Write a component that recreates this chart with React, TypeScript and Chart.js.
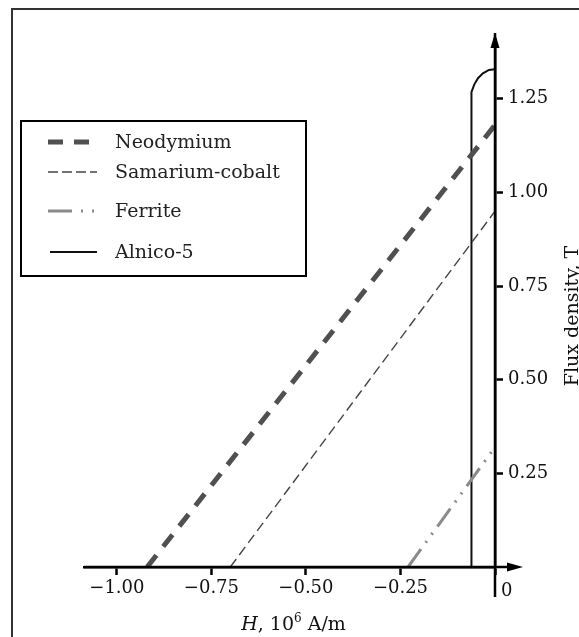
import React, { useEffect, useRef } from "react";
import { Chart, registerables } from "chart.js";

Chart.register(...registerables);

// ---------- data ----------
const seriesNames = ["Neodymium", "Samarium-cobalt", "Ferrite", "Alnico-5"];

const neodymiumH = [-0.92, 0];
const neodymiumB = [0, 1.18];

const samariumH = [-0.7, 0];
const samariumB = [0, 0.95];

const ferriteH = [-0.23, 0];
const ferriteB = [0, 0.32];

const alnicoH = [-0.063, -0.063, -0.0615, -0.055, -0.045, -0.032, -0.016, 0];
const alnicoB = [0, 1.247, 1.268, 1.288, 1.305, 1.318, 1.327, 1.329];

const xTicks = [-1.0, -0.75, -0.5, -0.25, 0];
const xTickLabels = ["\u22121.00", "\u22120.75", "\u22120.50", "\u22120.25", "0"];
const yTicks = [0.25, 0.5, 0.75, 1.0, 1.25];
const yTickLabels = ["0.25", "0.50", "0.75", "1.00", "1.25"];

const xRange = [-1.087, 0];
const yRange = [0, 1.407];

const xTitleParts = ["H", ", 10", "6", " A/m"];
const yTitle = "Flux density, T";

const FONT = "'DejaVu Serif', serif";

const toPoints = (xs: number[], ys: number[]) => xs.map((x, i) => ({ x, y: ys[i] }));

const decorPlugin = {
  id: "decor",
  afterDraw(chart: any) {
    const ctx: CanvasRenderingContext2D = chart.ctx;
    const xs = chart.scales.x;
    const ys = chart.scales.y;
    const x0 = xs.getPixelForValue(0);
    const y0 = ys.getPixelForValue(0);
    const left = chart.chartArea.left;
    const top = chart.chartArea.top;
    ctx.save();

    // outer frame
    ctx.strokeStyle = "#333";
    ctx.lineWidth = 2;
    ctx.beginPath();
    ctx.moveTo(12, 640);
    ctx.lineTo(12, 9);
    ctx.lineTo(590, 9);
    ctx.stroke();

    // axis extensions + arrows
    ctx.strokeStyle = "#000";
    ctx.fillStyle = "#000";
    ctx.lineWidth = 2.5;
    ctx.beginPath();
    ctx.moveTo(left, y0);
    ctx.lineTo(x0 + 14, y0);
    ctx.moveTo(x0, top - 7);
    ctx.lineTo(x0, y0 + 30);
    ctx.stroke();
    // x arrow
    ctx.beginPath();
    ctx.moveTo(x0 + 28, y0);
    ctx.lineTo(x0 + 12, y0 - 4.5);
    ctx.lineTo(x0 + 12, y0 + 4.5);
    ctx.closePath();
    ctx.fill();
    // y arrow
    ctx.beginPath();
    ctx.moveTo(x0, top - 7);
    ctx.lineTo(x0 - 4.5, top + 8);
    ctx.lineTo(x0 + 4.5, top + 8);
    ctx.closePath();
    ctx.fill();
    ctx.beginPath();
    ctx.moveTo(x0, top + 8);
    ctx.lineTo(x0, top - 2);
    ctx.stroke();

    // "0" label on x axis, right of the y axis
    ctx.fillStyle = "#111";
    ctx.font = `18px ${FONT}`;
    ctx.textAlign = "left";
    ctx.textBaseline = "alphabetic";
    ctx.fillText(xTickLabels[xTickLabels.length - 1], x0 + 6, y0 + 29);

    // x title
    ctx.font = `italic 19px ${FONT}`;
    const wH = ctx.measureText(xTitleParts[0]).width;
    ctx.font = `19px ${FONT}`;
    const w1 = ctx.measureText(xTitleParts[1]).width;
    const w3 = ctx.measureText(xTitleParts[3]).width;
    ctx.font = `12px ${FONT}`;
    const w2 = ctx.measureText(xTitleParts[2]).width;
    const total = wH + w1 + w2 + w3;
    let tx = (left + x0) / 2 + 4 - total / 2;
    const ty = 630;
    ctx.font = `italic 19px ${FONT}`;
    ctx.fillText(xTitleParts[0], tx, ty);
    tx += wH;
    ctx.font = `19px ${FONT}`;
    ctx.fillText(xTitleParts[1], tx, ty);
    tx += w1;
    ctx.font = `12px ${FONT}`;
    ctx.fillText(xTitleParts[2], tx, ty - 8);
    tx += w2;
    ctx.font = `19px ${FONT}`;
    ctx.fillText(xTitleParts[3], tx, ty);

    // y title (rotated, reading bottom to top)
    ctx.save();
    ctx.translate(578, 316);
    ctx.rotate(-Math.PI / 2);
    ctx.textAlign = "center";
    ctx.textBaseline = "alphabetic";
    ctx.font = `19px ${FONT}`;
    ctx.fillText(yTitle, 0, 0);
    ctx.restore();

    // legend box
    ctx.strokeStyle = "#000";
    ctx.lineWidth = 2;
    ctx.strokeRect(21, 121, 285, 155);
    const rows = [142, 172, 211, 252];
    const starts = [48, 48, 48, 50];
    chart.data.datasets.forEach((ds: any, i: number) => {
      ctx.save();
      ctx.strokeStyle = ds.borderColor;
      ctx.lineWidth = ds.borderWidth;
      ctx.setLineDash(ds.legendDash || ds.borderDash || []);
      ctx.beginPath();
      ctx.moveTo(starts[i], rows[i]);
      ctx.lineTo(97, rows[i]);
      ctx.stroke();
      ctx.restore();
      ctx.fillStyle = "#222";
      ctx.font = `19px ${FONT}`;
      ctx.textAlign = "left";
      ctx.textBaseline = "middle";
      ctx.fillText(ds.label, 115, rows[i] + 1);
    });

    ctx.restore();
  },
};

export default function App() {
  const ref = useRef<HTMLCanvasElement | null>(null);

  useEffect(() => {
    if (!ref.current) return;
    const chart = new Chart(ref.current, {
      type: "scatter",
      data: {
        datasets: [
          {
            label: seriesNames[0],
            data: toPoints(neodymiumH, neodymiumB),
            showLine: true,
            borderColor: "#505050",
            borderWidth: 5,
            borderDash: [15, 11],
            pointRadius: 0,
          } as any,
          {
            label: seriesNames[1],
            data: toPoints(samariumH, samariumB),
            showLine: true,
            borderColor: "#444",
            borderWidth: 1.4,
            borderDash: [10, 5],
            legendDash: [10, 4],
            pointRadius: 0,
          },
          {
            label: seriesNames[2],
            data: toPoints(ferriteH, ferriteB),
            showLine: true,
            borderColor: "#8a8a8a",
            borderWidth: 3,
            borderDash: [22, 8, 2, 8, 2, 8],
            legendDash: [24, 9, 2, 9, 2, 9],
            pointRadius: 0,
          },
          {
            label: seriesNames[3],
            data: toPoints(alnicoH, alnicoB),
            showLine: true,
            borderColor: "#111",
            borderWidth: 2,
            pointRadius: 0,
            tension: 0,
          },
        ],
      },
      options: {
        responsive: false,
        maintainAspectRatio: false,
        animation: false,
        layout: { padding: { left: 84, top: 40, right: 0, bottom: 0 } },
        plugins: {
          legend: { display: false },
          tooltip: { enabled: false },
        },
        scales: {
          x: {
            type: "linear",
            position: "bottom",
            min: xRange[0],
            max: xRange[1],
            afterBuildTicks: (s: any) => {
              s.ticks = xTicks.map((v) => ({ value: v }));
            },
            afterFit: (s: any) => {
              s.height = 70;
            },
            ticks: {
              autoSkip: false,
              maxRotation: 0,
              padding: 3,
              color: "#111",
              font: { family: "DejaVu Serif", size: 18 },
              callback: (v: any) => {
                const i = xTicks.indexOf(Number(v));
                return v === 0 ? "" : xTickLabels[i];
              },
            },
            grid: {
              drawOnChartArea: false,
              drawTicks: true,
              tickLength: 8,
              tickWidth: 2.5,
              tickColor: "#000",
            },
            border: { display: true, color: "#000", width: 2.5 },
          },
          y: {
            type: "linear",
            position: "right",
            min: yRange[0],
            max: yRange[1],
            afterBuildTicks: (s: any) => {
              s.ticks = yTicks.map((v) => ({ value: v }));
            },
            afterFit: (s: any) => {
              s.width = 84;
            },
            ticks: {
              autoSkip: false,
              padding: 5,
              color: "#111",
              font: { family: "DejaVu Serif", size: 18 },
              callback: (v: any) => yTickLabels[yTicks.indexOf(Number(v))],
            },
            grid: {
              drawOnChartArea: false,
              drawTicks: true,
              tickLength: 8,
              tickWidth: 2.5,
              tickColor: "#000",
            },
            border: { display: true, color: "#000", width: 2.5 },
          },
        },
      },
      plugins: [decorPlugin],
    } as any);
    return () => chart.destroy();
  }, []);

  return (
    <div style={{ position: "fixed", left: 0, top: 0, width: 579, height: 637, background: "#fff" }}>
      <canvas ref={ref} width={579} height={637} />
    </div>
  );
}
